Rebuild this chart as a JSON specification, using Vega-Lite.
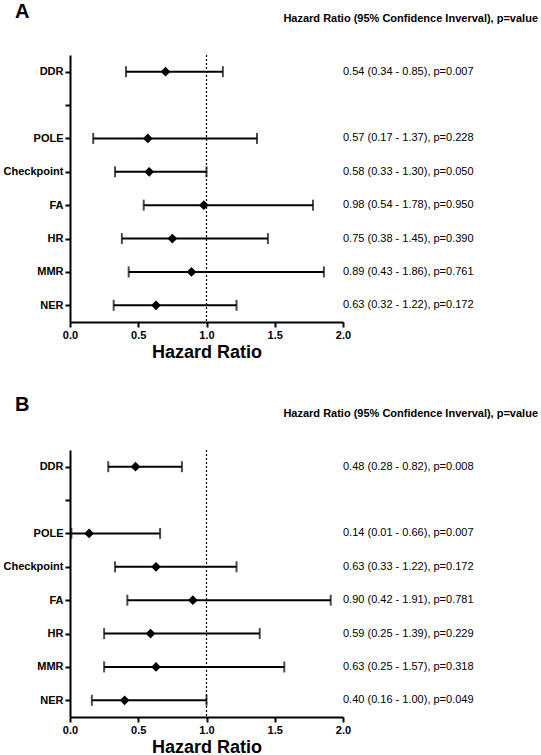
{
  "$schema": "https://vega.github.io/schema/vega-lite/v6.json",
  "background": "white",
  "padding": {"left": 3, "top": 2, "right": 0, "bottom": 0},
  "config": {
    "font": "Liberation Sans",
    "view": {"stroke": null},
    "axis": {"domainColor": "black", "domainWidth": 2, "tickColor": "black", "tickWidth": 2, "tickSize": 5, "labelFont": "Liberation Sans", "labelFontWeight": "bold", "labelFontSize": 11, "labelColor": "black", "grid": false, "titleColor": "black", "titleFont": "Liberation Sans"},
    "title": {"color": "black", "font": "Liberation Sans"}
  },
  "datasets": {
    "A": [
      {"cat": "DDR", "est": 0.70, "lo": 0.41, "hi": 1.12, "label": "0.54 (0.34 - 0.85), p=0.007"},
      {"cat": "POLE", "est": 0.57, "lo": 0.17, "hi": 1.37, "label": "0.57 (0.17 - 1.37), p=0.228"},
      {"cat": "Checkpoint", "est": 0.58, "lo": 0.33, "hi": 1.00, "label": "0.58 (0.33 - 1.30), p=0.050"},
      {"cat": "FA", "est": 0.98, "lo": 0.54, "hi": 1.78, "label": "0.98 (0.54 - 1.78), p=0.950"},
      {"cat": "HR", "est": 0.75, "lo": 0.38, "hi": 1.45, "label": "0.75 (0.38 - 1.45), p=0.390"},
      {"cat": "MMR", "est": 0.89, "lo": 0.43, "hi": 1.86, "label": "0.89 (0.43 - 1.86), p=0.761"},
      {"cat": "NER", "est": 0.63, "lo": 0.32, "hi": 1.22, "label": "0.63 (0.32 - 1.22), p=0.172"}
    ],
    "B": [
      {"cat": "DDR", "est": 0.48, "lo": 0.28, "hi": 0.82, "label": "0.48 (0.28 - 0.82), p=0.008"},
      {"cat": "POLE", "est": 0.14, "lo": 0.01, "hi": 0.66, "label": "0.14 (0.01 - 0.66), p=0.007"},
      {"cat": "Checkpoint", "est": 0.63, "lo": 0.33, "hi": 1.22, "label": "0.63 (0.33 - 1.22), p=0.172"},
      {"cat": "FA", "est": 0.90, "lo": 0.42, "hi": 1.91, "label": "0.90 (0.42 - 1.91), p=0.781"},
      {"cat": "HR", "est": 0.59, "lo": 0.25, "hi": 1.39, "label": "0.59 (0.25 - 1.39), p=0.229"},
      {"cat": "MMR", "est": 0.63, "lo": 0.25, "hi": 1.57, "label": "0.63 (0.25 - 1.57), p=0.318"},
      {"cat": "NER", "est": 0.40, "lo": 0.16, "hi": 1.00, "label": "0.40 (0.16 - 1.00), p=0.049"}
    ],
    "one": [{"ref": 1}]
  },
  "columns": 2,
  "bounds": "flush",
  "spacing": {"row": 128, "column": 0},
  "concat": [
    {
      "title": {"text": "A", "anchor": "start", "frame": "bounds", "fontSize": 20, "fontWeight": "bold", "dx": 12, "offset": 16, "baseline": "alphabetic"},
      "width": 273, "height": 267,
      "layer": [
        {
          "data": {"name": "one"},
          "mark": {"type": "rule", "strokeDash": [2, 2], "color": "black", "strokeWidth": 1.2},
          "encoding": {"x": {"field": "ref", "type": "quantitative", "scale": {"domain": [0, 2], "nice": false}, "axis": {"values": [0, 0.5, 1, 1.5, 2], "format": ".1f", "title": "Hazard Ratio", "titleFontSize": 18, "titleFontWeight": "bold", "titlePadding": 3, "labelFlush": false, "labelOverlap": false, "labelPadding": 2}}}
        },
        {
          "data": {"name": "A"},
          "mark": {"type": "rule", "color": "black", "strokeWidth": 2},
          "encoding": {
            "y": {"field": "cat", "type": "nominal", "sort": null, "scale": {"type": "point", "padding": 0.5, "domain": ["DDR", "gap", "POLE", "Checkpoint", "FA", "HR", "MMR", "NER"]}, "axis": {"title": null, "labelExpr": "datum.value == 'gap' ? '' : datum.value", "labelPadding": 2}},
            "x": {"field": "lo", "type": "quantitative"},
            "x2": {"field": "hi"}
          }
        },
        {
          "data": {"name": "A"},
          "mark": {"type": "tick", "color": "black", "thickness": 2, "size": 11},
          "encoding": {"y": {"field": "cat", "type": "nominal"}, "x": {"field": "lo", "type": "quantitative"}}
        },
        {
          "data": {"name": "A"},
          "mark": {"type": "tick", "color": "black", "thickness": 2, "size": 11},
          "encoding": {"y": {"field": "cat", "type": "nominal"}, "x": {"field": "hi", "type": "quantitative"}}
        },
        {
          "data": {"name": "A"},
          "mark": {"type": "point", "shape": "diamond", "filled": true, "size": 95, "color": "black", "opacity": 1},
          "encoding": {"y": {"field": "cat", "type": "nominal"}, "x": {"field": "est", "type": "quantitative"}}
        }
      ]
    },
    {
      "title": {"text": "Hazard Ratio (95% Confidence Inverval), p=value", "anchor": "end", "fontSize": 11, "fontWeight": "bold", "offset": 22, "baseline": "alphabetic"},
      "width": 195, "height": 267,
      "data": {"name": "A"},
      "mark": {"type": "text", "align": "left", "baseline": "middle", "fontSize": 11, "color": "black", "font": "Liberation Sans"},
      "encoding": {
        "y": {"field": "cat", "type": "nominal", "sort": null, "scale": {"type": "point", "padding": 0.5, "domain": ["DDR", "gap", "POLE", "Checkpoint", "FA", "HR", "MMR", "NER"]}, "axis": null},
        "x": {"datum": 0, "type": "quantitative", "scale": {"domain": [0, 1]}, "axis": null},
        "text": {"field": "label"}
      }
    },
    {
      "title": {"text": "B", "anchor": "start", "frame": "bounds", "fontSize": 20, "fontWeight": "bold", "dx": 12, "offset": 18, "baseline": "alphabetic"},
      "width": 273, "height": 267,
      "layer": [
        {
          "data": {"name": "one"},
          "mark": {"type": "rule", "strokeDash": [2, 2], "color": "black", "strokeWidth": 1.2},
          "encoding": {"x": {"field": "ref", "type": "quantitative", "scale": {"domain": [0, 2], "nice": false}, "axis": {"values": [0, 0.5, 1, 1.5, 2], "format": ".1f", "title": "Hazard Ratio", "titleFontSize": 18, "titleFontWeight": "bold", "titlePadding": 3, "labelFlush": false, "labelOverlap": false, "labelPadding": 2}}}
        },
        {
          "data": {"name": "B"},
          "mark": {"type": "rule", "color": "black", "strokeWidth": 2},
          "encoding": {
            "y": {"field": "cat", "type": "nominal", "sort": null, "scale": {"type": "point", "padding": 0.5, "domain": ["DDR", "gap", "POLE", "Checkpoint", "FA", "HR", "MMR", "NER"]}, "axis": {"title": null, "labelExpr": "datum.value == 'gap' ? '' : datum.value", "labelPadding": 2}},
            "x": {"field": "lo", "type": "quantitative"},
            "x2": {"field": "hi"}
          }
        },
        {
          "data": {"name": "B"},
          "mark": {"type": "tick", "color": "black", "thickness": 2, "size": 11},
          "encoding": {"y": {"field": "cat", "type": "nominal"}, "x": {"field": "lo", "type": "quantitative"}}
        },
        {
          "data": {"name": "B"},
          "mark": {"type": "tick", "color": "black", "thickness": 2, "size": 11},
          "encoding": {"y": {"field": "cat", "type": "nominal"}, "x": {"field": "hi", "type": "quantitative"}}
        },
        {
          "data": {"name": "B"},
          "mark": {"type": "point", "shape": "diamond", "filled": true, "size": 95, "color": "black", "opacity": 1},
          "encoding": {"y": {"field": "cat", "type": "nominal"}, "x": {"field": "est", "type": "quantitative"}}
        }
      ]
    },
    {
      "title": {"text": "Hazard Ratio (95% Confidence Inverval), p=value", "anchor": "end", "fontSize": 11, "fontWeight": "bold", "offset": 22, "baseline": "alphabetic"},
      "width": 195, "height": 267,
      "data": {"name": "B"},
      "mark": {"type": "text", "align": "left", "baseline": "middle", "fontSize": 11, "color": "black", "font": "Liberation Sans"},
      "encoding": {
        "y": {"field": "cat", "type": "nominal", "sort": null, "scale": {"type": "point", "padding": 0.5, "domain": ["DDR", "gap", "POLE", "Checkpoint", "FA", "HR", "MMR", "NER"]}, "axis": null},
        "x": {"datum": 0, "type": "quantitative", "scale": {"domain": [0, 1]}, "axis": null},
        "text": {"field": "label"}
      }
    }
  ]
}
